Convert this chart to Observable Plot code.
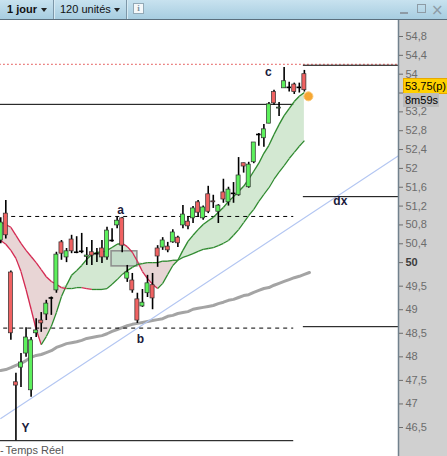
<!DOCTYPE html>
<html><head><meta charset="utf-8">
<script src="https://cdn.jsdelivr.net/npm/d3@7"></script>
<script src="https://cdn.jsdelivr.net/npm/@observablehq/plot@0.6"></script>
<style>
body{margin:0;background:#fff;font-family:"Liberation Sans",Arial,sans-serif;}
#wrap{position:relative;width:447px;height:456px;overflow:hidden;}
#bar{position:absolute;left:0;top:0;width:447px;height:19px;background:linear-gradient(#c8e2ef,#a7cde0);border-bottom:1px solid #5b6f7d;font-size:11px;color:#111;z-index:5;}
#bar span{position:absolute;top:3px;line-height:13px;}
.sep{position:absolute;top:0;width:1px;height:19px;background:#7d97a8;box-shadow:1px 0 0 #d6eaf3;}
.tri{position:absolute;top:8px;width:0;height:0;border-left:3.5px solid transparent;border-right:3.5px solid transparent;border-top:4px solid #222;}
.ov{position:absolute;font-size:11px;line-height:14px;color:#000;z-index:6;white-space:nowrap;}
</style></head>
<body>
<div id="wrap">
  <div id="bar">
    <span style="left:7px;font-weight:bold">1 jour</span>
    <div class="tri" style="left:41px"></div>
    <div class="sep" style="left:53px"></div>
    <span style="left:60px">120 unités</span>
    <div class="tri" style="left:114px"></div>
    <div class="sep" style="left:126px"></div>
    <div style="position:absolute;left:133px;top:3px;width:9px;height:9px;background:#f4f8fa;border:1px solid #93a9b6;font:bold 9px 'Liberation Serif',serif;color:#7d8f9a;text-align:center;line-height:9px">i</div>
    <div style="position:absolute;left:400px;top:12px;width:8px;height:2px;background:#8d9ba5"></div>
    <div style="position:absolute;left:417px;top:4px;width:7px;height:7px;border:1.5px solid #8d9ba5"></div>
    <span style="left:431px;top:1px;font:15px 'DejaVu Sans',sans-serif;color:#8d9ba5">×</span>
  </div>
  <div id="chart"></div>
  <div class="ov" style="left:0px;top:443px;color:#555"><span style="margin-right:-1px">-</span> Temps Réel</div>
</div>
<script>
// ---- data (prices) ----
const open  = [50.47,51.04,49.79,47.46,47.77,48.07,47.29,48.50,48.77,48.90,49.25,49.41,50.43,50.11,50.49,50.22,50.24,50.12,50.22,50.19,50.30,50.11,50.47,50.79,50.94,49.66,49.62,49.22,49.07,49.35,49.52,50.30,50.32,50.34,50.43,50.53,50.79,50.87,50.94,51.28,50.94,51.45,51.30,51.08,51.49,51.28,51.47,51.43,52.11,51.60,52.13,52.72,52.64,52.95,53.62,53.27,53.70,53.72,53.78,53.72,54.00];
const high  = [50.95,51.32,49.82,47.65,48.07,48.62,48.41,48.81,48.94,49.20,49.27,50.22,50.47,50.30,50.58,50.55,50.62,50.32,50.47,50.30,50.47,50.75,50.72,50.96,50.96,49.94,49.77,49.35,49.43,49.73,49.77,50.36,50.53,50.43,50.70,50.56,51.21,50.98,51.19,51.32,51.20,51.62,51.43,51.23,51.77,51.60,51.70,52.23,52.11,52.13,52.55,52.74,52.93,53.40,53.66,53.40,54.14,53.83,53.81,53.81,54.08];
const low   = [50.40,50.50,48.35,46.22,47.35,47.99,47.14,48.41,48.52,48.77,48.88,49.35,50.05,50.00,50.19,50.19,50.19,49.94,49.94,50.00,49.98,50.05,50.43,50.72,50.21,49.58,49.35,48.71,49.05,49.26,49.00,49.90,50.26,50.21,50.41,50.32,50.72,50.70,50.83,50.96,50.90,51.04,51.15,50.83,51.26,51.20,51.26,51.41,51.90,51.58,52.10,52.47,52.45,52.95,53.34,53.10,53.70,53.62,53.57,53.60,53.62];
const close = [50.85,50.58,48.50,47.39,47.88,48.41,48.35,48.56,48.71,49.13,49.25,50.17,50.19,50.24,50.24,50.22,50.24,50.15,50.15,50.19,50.11,50.68,50.47,50.89,50.36,49.79,49.41,48.77,49.15,49.56,49.24,50.13,50.47,50.26,50.64,50.41,51.02,50.77,51.15,51.06,51.17,51.08,51.28,51.21,51.34,51.55,51.47,51.85,52.04,52.08,52.55,52.72,52.83,53.36,53.38,53.29,53.85,53.72,53.62,53.72,53.66];
const fastMA = [50.47,50.39,50.26,50.09,49.81,49.43,49.01,48.58,48.26,48.43,48.65,48.94,49.28,49.52,49.73,49.83,49.94,50.07,50.17,50.22,50.22,50.26,50.32,50.39,50.41,50.34,50.22,50.03,49.81,49.66,49.54,49.45,49.56,49.75,49.94,50.05,50.26,50.45,50.58,50.70,50.81,50.89,50.96,51.07,51.17,51.30,51.40,51.51,51.62,51.77,51.94,52.11,52.32,52.49,52.72,52.93,53.12,53.27,53.42,53.53,53.61];
const slowMA = [50.85,50.81,50.75,50.58,50.41,50.26,50.13,50.00,49.85,49.70,49.60,49.54,49.47,49.45,49.45,49.47,49.47,49.45,49.43,49.43,49.43,49.45,49.54,49.64,49.75,49.83,49.90,49.96,49.98,50.00,50.00,50.00,50.03,50.03,50.05,50.05,50.11,50.15,50.19,50.24,50.28,50.30,50.32,50.36,50.41,50.47,50.58,50.70,50.85,51.00,51.13,51.30,51.45,51.59,51.77,51.92,52.06,52.21,52.34,52.47,52.59];
const longMA = [47.71,47.73,47.77,47.82,47.86,47.92,47.99,48.03,48.05,48.09,48.13,48.20,48.24,48.28,48.30,48.32,48.35,48.39,48.41,48.43,48.45,48.49,48.54,48.58,48.62,48.66,48.69,48.71,48.73,48.75,48.77,48.79,48.81,48.86,48.88,48.92,48.94,48.96,49.01,49.03,49.05,49.07,49.09,49.13,49.16,49.20,49.22,49.26,49.30,49.32,49.37,49.41,49.45,49.47,49.52,49.56,49.60,49.64,49.68,49.71,49.75,49.79];
const yTicks = [54.8,54.4,54,53.6,53.2,52.8,52.4,52,51.6,51.2,50.8,50.4,50,49.5,49,48.5,48,47.5,47,46.5];
const hiddenTickLabels = [53.6];
const dashedLevels = [50.98, 48.61];
const solidLevels = [53.36, 46.22];
const dottedLevel = [54.21];
const rightLevels = [54.19, 51.40, 48.64];
const trendI = [0, 78.6];
const trendP = [46.69, 52.27];
const labelText = ["a", "b", "c", "Y", "dx"];
const labelI = [23.7, 27.6, 52.9, 4.9, 67.1];
const labelP = [51.11, 48.37, 54.04, 46.48, 51.30];
const zoneI = [21.9, 27.0];
const zoneP = [50.24, 49.92];
const markerI = 60.8, markerP = 53.53;
const lastPrice = 53.75;
const timerText = "8m59s";

// ---- build ----
const GREEN = "#5cf05c", RED = "#f06262";
const LGREEN = "#2f8a2f", LRED = "#d42a52";
const candles = open.map((o, i) => ({i, o, h: high[i], l: low[i], c: close[i]}));
const bands = fastMA.map((f, i) => ({i, f, s: slowMA[i]}));
const segs = [];
for (const arr of [fastMA, slowMA]) {
  for (let i = 0; i < arr.length - 1; i++) {
    segs.push({x1: i, y1: arr[i], x2: i + 1, y2: arr[i + 1], color: arr[i + 1] >= arr[i] ? LGREEN : LRED});
  }
}
const fmt = d => String(d).replace(".", ",");
const lastIdx = 57.9, rightEnd = 78.6;

const plot = Plot.plot({
  width: 447, height: 456,
  marginTop: 20, marginBottom: 0, marginLeft: 0, marginRight: 49,
  x: {type: "linear", domain: [0, 78.6], range: [0.25, 398], axis: null},
  y: {domain: [46.5, 54.8], range: [427, 36], axis: null},
  color: {type: "identity"},
  style: {background: "linear-gradient(90deg,#ffffff 398px,#d0d0d0 398px)", fontFamily: "'Liberation Sans',Arial,sans-serif", fontSize: "11px", overflow: "hidden"},
  marks: [
    Plot.areaY(bands, {x: "i", y1: "s", y2: d => Math.max(d.f, d.s), fill: "#d3e8d2"}),
    Plot.areaY(bands, {x: "i", y1: d => Math.min(d.f, d.s), y2: "s", fill: "#e8d5d5"}),
    Plot.rect([0], {x1: zoneI[0], x2: zoneI[1], y1: zoneP[0], y2: zoneP[1], fill: "#b9d3c3", fillOpacity: 0.6, stroke: "#8c8c8c", strokeWidth: 1.5}),
    Plot.line(longMA, {x: (d, i) => i, y: d => d, stroke: "#a4a4a4", strokeWidth: 3}),
    Plot.line(trendI, {x: d => d, y: (d, i) => trendP[i], stroke: "#b3c6f2", strokeWidth: 1.1}),
    Plot.ruleY(dashedLevels, {x1: -1, x2: lastIdx, stroke: "#000", strokeDasharray: "4,4"}),
    Plot.ruleY(solidLevels, {x1: -1, x2: lastIdx, stroke: "#000"}),
    Plot.ruleY(dottedLevel, {x1: -1, x2: rightEnd, stroke: "#e03a3a", strokeDasharray: "1.5,2.5"}),
    Plot.ruleY(rightLevels, {x1: 59.8, x2: rightEnd, stroke: "#000"}),
    Plot.link(segs, {x1: "x1", y1: "y1", x2: "x2", y2: "y2", stroke: "color", strokeWidth: 1.3}),
    Plot.ruleX(candles, {x: "i", y1: "l", y2: "h", stroke: "#000", strokeWidth: 1.6}),
    Plot.rect(candles.filter(d => d.o !== d.c), {x1: d => d.i - 0.4, x2: d => d.i + 0.4, y1: "o", y2: "c", fill: d => d.c > d.o ? GREEN : RED, stroke: "#303030", strokeWidth: 0.7}),
    Plot.ruleY(candles.filter(d => d.o === d.c), {y: "o", x1: d => d.i - 0.45, x2: d => d.i + 0.45, stroke: "#000", strokeWidth: 1.6}),
    Plot.dot([0], {x: markerI, y: markerP, r: 4.5, fill: "#f6a733", stroke: "#f9c877", strokeWidth: 1}),
    Plot.text(labelText, {x: (d, i) => labelI[i], y: (d, i) => labelP[i], text: d => d, fontWeight: "bold", fontSize: 12, fill: "#1b1b3c"}),
    Plot.frame({anchor: "right", stroke: "#71818d", strokeWidth: 1.5}),
    Plot.axisY({anchor: "right", ticks: yTicks, tickSize: 4, tickPadding: 3, tickFormat: d => (d === 50 || hiddenTickLabels.includes(d)) ? "" : fmt(d), fontSize: 11, color: "#6c6c6c"}),
    Plot.text([50], {y: d => d, text: d => fmt(d), frameAnchor: "right", dx: 7, textAnchor: "start", fontWeight: "bold", fontSize: 11, fill: "#3c3c3c"})
  ]
});
document.getElementById("chart").appendChild(plot);

// current price tags
const yS = plot.scale("y");
const py = yS.apply(lastPrice);
const wrap = document.getElementById("wrap");
const tag = document.createElement("div");
tag.className = "ov";
tag.style.cssText += `left:403px;top:${py - 7}px;width:44px;height:14px;background:#ffd000;border:1px solid #e8a800;border-right:none;padding-left:1px;`;
tag.textContent = fmt(lastPrice) + "(p)";
wrap.appendChild(tag);
const tm = document.createElement("div");
tm.className = "ov";
tm.style.cssText += `left:403px;top:${py + 8}px;width:34px;height:14px;background:#bcbcbc;padding-left:2px;`;
tm.textContent = timerText;
wrap.appendChild(tm);
</script>
</body></html>
